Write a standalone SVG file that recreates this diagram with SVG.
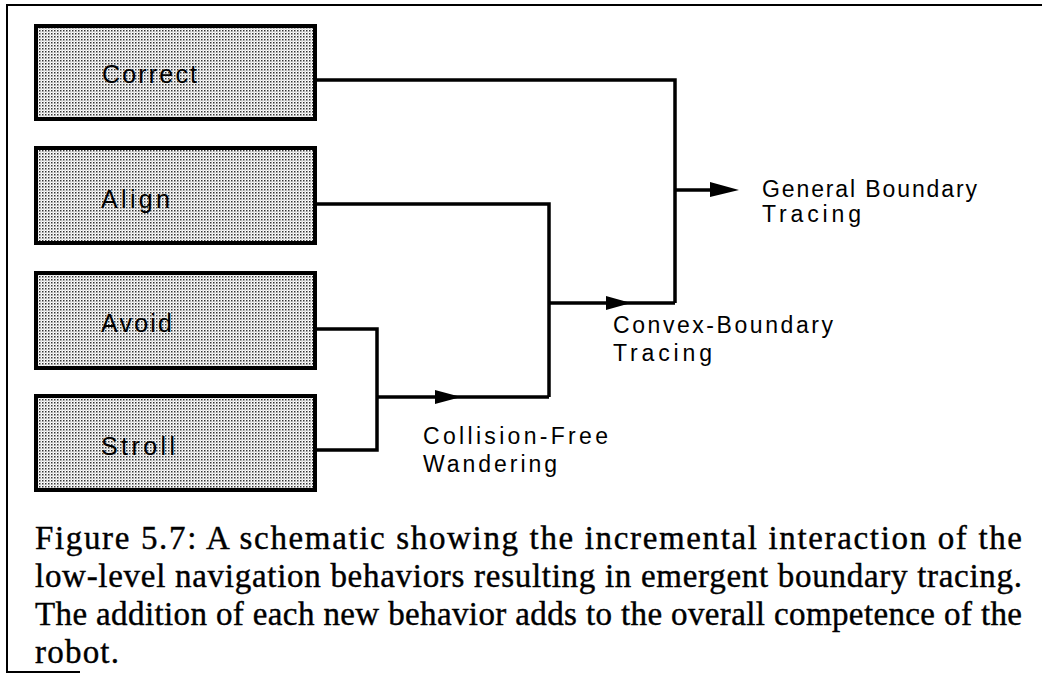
<svg xmlns="http://www.w3.org/2000/svg" width="1042" height="674" viewBox="0 0 1042 674">
<defs>
<pattern id="dots" width="3" height="3" patternUnits="userSpaceOnUse">
<rect width="3" height="3" fill="#ffffff"/>
<rect x="0" y="0" width="1.5" height="1.5" fill="#333"/>
<rect x="1.5" y="1.5" width="1" height="1" fill="#999"/>
</pattern>
</defs>
<style>
.box{fill:url(#dots);stroke:#000;stroke-width:4}
.lbl{font-family:"Liberation Sans","DejaVu Sans",sans-serif;font-size:25px;fill:#000}
.out{font-family:"Liberation Sans","DejaVu Sans",sans-serif;font-size:23px;fill:#000}
.cap{font-family:"Liberation Serif","DejaVu Serif",serif;font-size:33px;fill:#000;stroke:#000;stroke-width:0.4}
.wire{fill:none;stroke:#000;stroke-width:3.5;stroke-linejoin:miter}
.head{fill:#000}
</style>
<rect width="1042" height="674" fill="#fff"/>
<path d="M1042,5 H7 V672 H80" fill="none" stroke="#000" stroke-width="2"/>

<g id="correct">
<rect class="box" x="36" y="26" width="279" height="93"/>
<text class="lbl" x="102" y="83" textLength="95">Correct</text>
</g>
<g id="align">
<rect class="box" x="36" y="148" width="279" height="95"/>
<text class="lbl" x="101" y="208" textLength="69">Align</text>
</g>
<g id="avoid">
<rect class="box" x="36" y="273" width="279" height="95"/>
<text class="lbl" x="101" y="332" textLength="71">Avoid</text>
</g>
<g id="stroll">
<rect class="box" x="36" y="396" width="279" height="94"/>
<text class="lbl" x="101" y="455" textLength="74">Stroll</text>
</g>

<g id="connectors">
<path class="wire" d="M315,80 H675 V303"/>
<path class="wire" d="M315,204 H549 V397"/>
<path class="wire" d="M315,329 H377 V450 H315"/>
<path class="wire" d="M377,397 H549"/>
<path class="wire" d="M549,303 H675"/>
<path class="wire" d="M675,190 H712"/>
<polygon class="head" points="710,182 739,190 710,197"/>
<polygon class="head" points="606,296 631,303 606,310"/>
<polygon class="head" points="435,390 461,397 435,404"/>
</g>

<g id="labels">
<text class="out" x="762" y="197" textLength="215">General Boundary</text>
<text class="out" x="762" y="222" textLength="99">Tracing</text>
<text class="out" x="613" y="333" textLength="220">Convex-Boundary</text>
<text class="out" x="613" y="361" textLength="99">Tracing</text>
<text class="out" x="423" y="444" textLength="185">Collision-Free</text>
<text class="out" x="423" y="472" textLength="134">Wandering</text>
</g>

<g id="caption">
<text class="cap" x="35" y="549" textLength="987">Figure 5.7:  A schematic showing the incremental interaction of the</text>
<text class="cap" x="35" y="587" textLength="987">low-level navigation behaviors resulting in emergent boundary tracing.</text>
<text class="cap" x="35" y="625" textLength="987">The addition of each new behavior adds to the overall competence of the</text>
<text class="cap" x="35" y="663" textLength="84">robot.</text>
</g>
</svg>
